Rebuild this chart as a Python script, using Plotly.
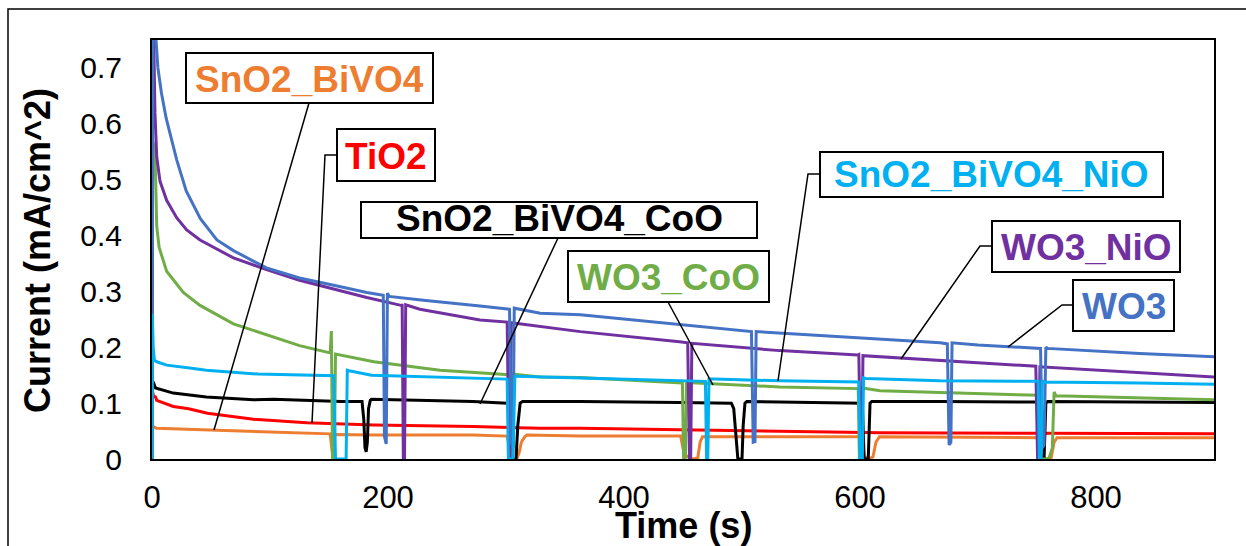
import plotly.graph_objects as go

# ---------------- data (time s, current mA/cm^2) ----------------
WO3 = [(0, 0.0), (1, 1.1), (2.5, 0.80), (3.4, 0.75), (5, 0.70), (8, 0.655), (12, 0.61), (16, 0.575),
       (21, 0.535), (29, 0.48), (41, 0.43), (55, 0.392), (69, 0.373), (97, 0.342), (125, 0.324),
       (154, 0.311), (182, 0.298), (196, 0.293), (197, 0.04), (198.5, 0.027), (199.5, 0.297),
       (201, 0.291), (230, 0.284), (278, 0.274), (303, 0.268), (304.5, 0.03), (306, 0.02),
       (307, 0.27), (329, 0.261), (363, 0.258), (447, 0.24), (504, 0.229), (508, 0.228),
       (509.5, 0.03), (511, 0.031), (512, 0.228), (560, 0.222), (617, 0.215), (668, 0.208),
       (674, 0.206), (675.5, 0.025), (677, 0.03), (678, 0.208), (700, 0.204), (753, 0.198),
       (754.5, 0.02), (756, 0.025), (757.5, 0.2), (759, 0.198), (837, 0.189), (900, 0.183)]

WO3_NiO = [(0, 0.0), (0.5, 0.95), (1.5, 0.75), (2.5, 0.62), (4, 0.541), (6.8, 0.497), (12.4, 0.463),
           (20.9, 0.432), (29.4, 0.41), (40.7, 0.392), (69, 0.36), (97, 0.339), (125, 0.32),
           (154, 0.304), (182, 0.289), (211, 0.275), (212, 0.275), (213, 0.0), (214, 0.0),
           (215, 0.276), (227, 0.268), (278, 0.249), (300, 0.245), (301, 0.245), (302.5, 0.0),
           (303.5, 0.0), (304.5, 0.244), (329, 0.237), (363, 0.228), (447, 0.21), (453, 0.208),
           (454, 0.208), (455.5, 0.0), (456.5, 0.0), (457.5, 0.207), (532, 0.194), (598, 0.186),
           (599, 0.187), (600.5, 0.0), (601.5, 0.0), (602.5, 0.185), (668, 0.176), (748, 0.166),
           (749, 0.166), (750.5, 0.0), (751.5, 0.0), (752.5, 0.165), (837, 0.154), (900, 0.147)]

WO3_CoO = [(0, 0.0), (0.5, 0.57), (2.5, 0.553), (4, 0.417), (6, 0.379), (12.4, 0.336), (26.5, 0.298),
           (40.7, 0.275), (69, 0.242), (97, 0.222), (125, 0.203), (151, 0.19), (152, 0.229),
           (153, 0.0), (154.5, 0.0), (155.5, 0.188), (188, 0.174), (244, 0.159), (301, 0.151),
           (302.5, 0.151), (303.5, 0.0), (305, 0.0), (306, 0.152), (329, 0.147), (363, 0.146),
           (449.5, 0.136), (450.5, 0.0), (452, 0.0), (453, 0.137), (532, 0.129), (598.5, 0.126),
           (599.5, 0.0), (601, 0.0), (602, 0.127), (617, 0.122), (668, 0.119), (752, 0.114),
           (753, 0.0), (760, 0.0), (763, 0.02), (764.5, 0.12), (766, 0.113), (837, 0.109),
           (900, 0.106)]

SnO2_BiVO4_NiO = [(0, 0.0), (0.3, 0.26), (1, 0.2), (2, 0.177), (4, 0.174), (12.4, 0.168), (32, 0.163),
                  (46, 0.159), (90, 0.152), (153, 0.149), (154, 0.149), (155.5, 0.0), (164.5, 0.0),
                  (165.5, 0.159), (167, 0.158), (186, 0.15), (300, 0.143), (301, 0.143), (302, 0.0),
                  (305, 0.0), (306, 0.0), (307.5, 0.148), (309, 0.148), (363, 0.145), (447, 0.141),
                  (468, 0.139), (469, 0.139), (470, 0.0), (471, 0.0), (472, 0.143), (477, 0.143),
                  (532, 0.14), (598, 0.138), (599, 0.138), (600, 0.0), (602, 0.0), (603, 0.145),
                  (605, 0.144), (668, 0.14), (750, 0.139), (751, 0.139), (752, 0.0), (753.5, 0.0),
                  (754.5, 0.14), (756, 0.138), (837, 0.136), (900, 0.134)]

SnO2_BiVO4_CoO = [(1, 0.138), (3, 0.127), (18, 0.118), (46, 0.111), (86, 0.106), (103, 0.107),
                  (160, 0.103), (178, 0.103), (179.5, 0.07), (180.5, 0.02), (181.5, 0.013),
                  (182.5, 0.03), (183.5, 0.09), (185, 0.105), (186, 0.107), (272, 0.103), (301, 0.1),
                  (302, 0.098), (303.5, 0.0), (308.5, 0.0), (310, 0.06), (312, 0.1), (314, 0.103),
                  (363, 0.103), (447, 0.101), (491, 0.1), (493, 0.09), (495, 0.03), (496.5, 0.0),
                  (500, 0.0), (501, 0.06), (502.5, 0.1), (504, 0.103), (560, 0.101), (602, 0.1),
                  (603.5, 0.0), (607, 0.0), (608.5, 0.1), (610, 0.103), (668, 0.103), (751, 0.102),
                  (752, 0.1), (753.5, 0.0), (756, 0.0), (757.5, 0.1), (759, 0.103), (900, 0.101)]

TiO2 = [(0, 0.125), (1.2, 0.113), (3, 0.111), (4, 0.105), (18, 0.094), (31, 0.09), (47, 0.082),
        (74, 0.075), (86, 0.071), (131, 0.065), (188, 0.061), (272, 0.058), (329, 0.055),
        (363, 0.055), (447, 0.052), (532, 0.05), (617, 0.047), (753, 0.046), (900, 0.045)]

SnO2_BiVO4 = [(0, 0.06), (1, 0.058), (4, 0.055), (47, 0.052), (74, 0.05), (86, 0.05), (131, 0.046),
              (151, 0.045), (152.5, 0.016), (154, 0.018), (155, 0.044), (188, 0.043), (272, 0.043),
              (301, 0.041), (303, 0.02), (304, 0.0), (309, 0.0), (311, 0.01), (313, 0.03),
              (316, 0.04), (318, 0.043), (363, 0.041), (448, 0.041), (450.5, 0.015), (453, 0.005),
              (458, 0.0), (462.5, 0.002), (464.5, 0.03), (466.5, 0.04), (532, 0.04), (602, 0.04),
              (603.5, 0.005), (608, 0.0), (611, 0.004), (613.5, 0.03), (616.5, 0.04), (668, 0.039),
              (752, 0.038), (753.5, 0.005), (757, 0.0), (762, 0.002), (764.5, 0.03), (767, 0.038),
              (837, 0.038), (900, 0.038)]

X_TICKS = [0, 200, 400, 600, 800]
Y_TICKS = [0, 0.1, 0.2, 0.3, 0.4, 0.5, 0.6, 0.7]
Y_TICK_TEXT = ["0", "0.1", "0.2", "0.3", "0.4", "0.5", "0.6", "0.7"]

# drawing order: first drawn is lowest
SERIES = [
    ("SnO2_BiVO4", SnO2_BiVO4, "#ED7D31"),
    ("TiO2", TiO2, "#FF0000"),
    ("SnO2_BiVO4_CoO", SnO2_BiVO4_CoO, "#000000"),
    ("WO3_CoO", WO3_CoO, "#70AD47"),
    ("WO3_NiO", WO3_NiO, "#7030A0"),
    ("WO3", WO3, "#4472C4"),
    ("SnO2_BiVO4_NiO", SnO2_BiVO4_NiO, "#00B0F0"),
]

# ---------------- layout geometry (pixels) ----------------
W, H = 1246, 546
L, R, T, B = 152, 1214, 40, 459
FONT = "Liberation Sans, Arial, sans-serif"


def px(x):
    return (x - L) / (R - L)


def py(y):
    return (B - y) / (B - T)


fig = go.Figure()
for name, pts, color in SERIES:
    fig.add_trace(go.Scatter(
        x=[p[0] for p in pts], y=[p[1] for p in pts], mode="lines", name=name,
        line=dict(color=color, width=3), hoverinfo="skip"))

# label boxes: text, colour, box (x0, y0, x1, y1) in px, leader polyline in px, text dy
LABELS = [
    ("SnO2_BiVO4", "#ED7D31", (186, 53, 433, 103), [(309, 103), (214, 430)], 1),
    ("TiO2", "#FF0000", (337, 129, 435, 181), [(337, 155), (325, 155), (312, 423)], 1),
    ("SnO2_BiVO4_CoO", "#000000", (361, 202, 757, 238), [(558, 238), (480, 404)], -2),
    ("WO3_CoO", "#70AD47", (568, 251, 769, 302), [(668, 302), (713, 385)], 1),
    ("SnO2_BiVO4_NiO", "#00B0F0", (820, 152, 1163, 197), [(820, 174), (808, 174), (778, 381)], 0),
    ("WO3_NiO", "#7030A0", (992, 221, 1180, 272), [(992, 246), (980, 246), (901, 359)], 1),
    ("WO3", "#4472C4", (1073, 280, 1174, 331), [(1073, 305), (1062, 305), (1008, 347)], 1),
]

shapes = []
annotations = []
# outer chart frame (only top and left edges fall inside the picture)
shapes.append(dict(type="rect", xref="paper", yref="paper", x0=px(8), x1=px(1400),
                   y0=py(700), y1=py(9), line=dict(color="black", width=1.5),
                   fillcolor="rgba(0,0,0,0)", layer="above"))
for text, color, (x0, y0, x1, y1), leader, dy in LABELS:
    path = "M " + " L ".join(f"{px(a):.5f},{py(b):.5f}" for a, b in leader)
    shapes.append(dict(type="path", xref="paper", yref="paper", path=path,
                       line=dict(color="black", width=1.5), layer="above"))
    shapes.append(dict(type="rect", xref="paper", yref="paper", x0=px(x0), x1=px(x1),
                       y0=py(y1), y1=py(y0), line=dict(color="black", width=2),
                       fillcolor="white", layer="above"))
    annotations.append(dict(text=text, xref="paper", yref="paper",
                            x=px((x0 + x1) / 2), y=py((y0 + y1) / 2 + dy),
                            xanchor="center", yanchor="middle", showarrow=False,
                            font=dict(family=FONT, size=37, color=color, weight="bold")))

# axis titles
annotations.append(dict(text="Time (s)", xref="paper", yref="paper", x=px(683), y=py(503),
                        xanchor="center", yanchor="top", showarrow=False,
                        font=dict(family=FONT, size=36, color="black", weight="bold")))
annotations.append(dict(text="Current (mA/cm^2)", xref="paper", yref="paper", x=px(37),
                        y=py(251), xanchor="center", yanchor="middle", textangle=-90,
                        showarrow=False,
                        font=dict(family=FONT, size=36, color="black", weight="bold")))

fig.update_layout(
    width=W, height=H,
    margin=dict(l=L, r=W - R, t=T, b=H - B, autoexpand=False),
    paper_bgcolor="white", plot_bgcolor="white", showlegend=False,
    shapes=shapes, annotations=annotations,
    xaxis=dict(range=[0, 900], tickvals=X_TICKS, ticktext=[str(v) for v in X_TICKS],
               showgrid=False, zeroline=False, showline=True, linecolor="black", linewidth=2,
               mirror=True, ticks="", ticklabelstandoff=10,
               tickfont=dict(family=FONT, size=31, color="black")),
    yaxis=dict(range=[0, 0.75], tickvals=Y_TICKS, ticktext=Y_TICK_TEXT,
               showgrid=False, zeroline=False, showline=True, linecolor="black", linewidth=2,
               mirror=True, ticks="", ticklabelstandoff=22,
               tickfont=dict(family=FONT, size=30, color="black")),
)

fig.write_html("out.html", config={"displayModeBar": False},
               post_script="document.body.style.margin='0';document.body.style.overflow='hidden';")
